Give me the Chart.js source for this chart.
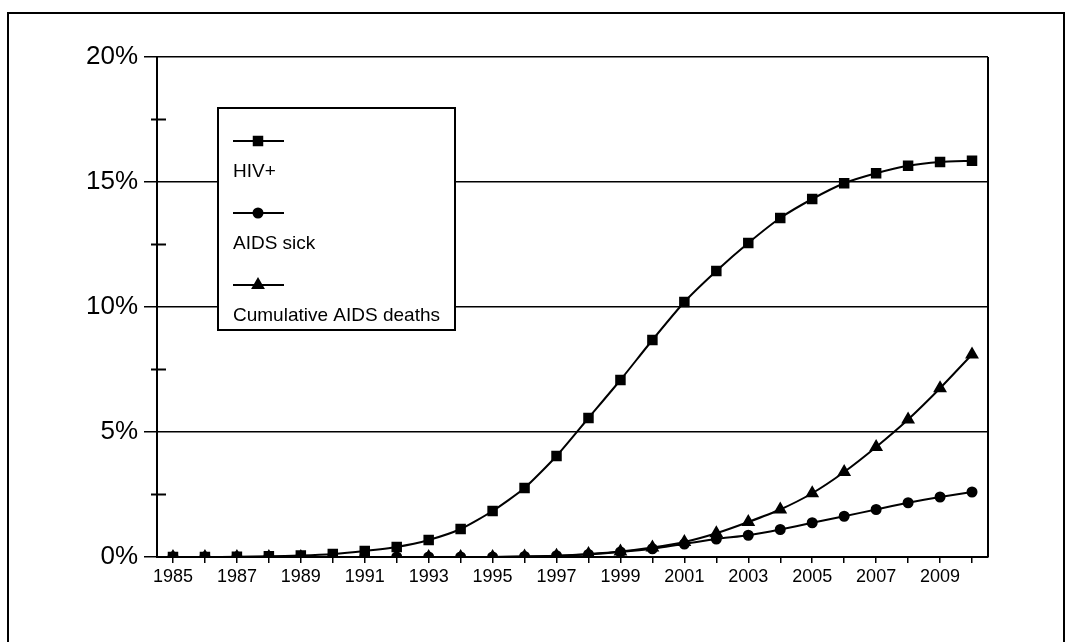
<!DOCTYPE html>
<html>
<head>
<meta charset="utf-8">
<script src="https://cdn.jsdelivr.net/npm/chart.js@4.4.0/dist/chart.umd.min.js"></script>
<style>
  html, body { margin: 0; padding: 0; background: #fff; overflow: hidden; }
  #frame { position: absolute; left: 7px; top: 12px; width: 1054px; height: 640px; border: 2px solid #000; }
  #c { position: absolute; left: 0; top: 0; }
</style>
</head>
<body>
<div id="frame"></div>
<canvas id="c" width="1065" height="642"></canvas>
<script>
// years on the x axis
var years = ['1985','1986','1987','1988','1989','1990','1991','1992','1993','1994','1995','1996','1997',
             '1998','1999','2000','2001','2002','2003','2004','2005','2006','2007','2008','2009','2010'];

// percent of population
var hivPositive = [0, 0, 0.01, 0.03, 0.06, 0.12, 0.24, 0.4, 0.68, 1.12, 1.84, 2.76, 4.04,
                   5.56, 7.08, 8.68, 10.2, 11.44, 12.56, 13.56, 14.32, 14.95, 15.35, 15.65, 15.8, 15.85];
var aidsSick = [0, 0, 0, 0, 0, 0, 0, 0, 0, 0, 0, 0.02, 0.05,
                0.1, 0.2, 0.33, 0.52, 0.72, 0.87, 1.1, 1.37, 1.63, 1.9, 2.17, 2.4, 2.6];
var aidsDeaths = [0, 0, 0, 0, 0, 0, 0, 0, 0, 0, 0, 0.02, 0.05,
                  0.12, 0.22, 0.38, 0.6, 0.95, 1.4, 1.9, 2.55, 3.4, 4.4, 5.5, 6.75, 8.1];

var seriesNames = ['HIV+', 'AIDS sick', 'Cumulative AIDS deaths'];
var yTicks = [0, 5, 10, 15, 20];

var FONT = 'Liberation Sans, Arial, sans-serif';

// minor ticks, right border and the boxed legend
var extras = {
    id: 'extras',
    afterDraw: function(chart) {
        var ctx = chart.ctx;
        var area = chart.chartArea;
        var y = chart.scales.y;
        ctx.save();
        ctx.strokeStyle = '#000';
        ctx.lineWidth = 2;
        // right edge of plot
        ctx.beginPath();
        ctx.moveTo(area.right, area.top);
        ctx.lineTo(area.right, area.bottom);
        ctx.stroke();
        // minor ticks on y axis
        [2.5, 7.5, 12.5, 17.5].forEach(function(v) {
            var py = y.getPixelForValue(v);
            ctx.beginPath();
            ctx.moveTo(area.left - 6, py);
            ctx.lineTo(area.left + 9, py);
            ctx.stroke();
        });
        // legend
        var lx = 218, ly = 108, lw = 237, lh = 222;
        ctx.fillStyle = '#fff';
        ctx.fillRect(lx, ly, lw, lh);
        ctx.strokeRect(lx, ly, lw, lh);
        chart.data.datasets.forEach(function(ds, i) {
            var yy = 141 + i * 72;
            ctx.lineWidth = 2;
            ctx.beginPath();
            ctx.moveTo(233, yy);
            ctx.lineTo(284, yy);
            ctx.stroke();
            Chart.helpers.drawPoint(ctx, {
                pointStyle: ds.pointStyle, radius: ds.pointRadius, rotation: 0, borderWidth: 1
            }, 258, yy);
            ctx.fillStyle = '#000';
            ctx.fill();
            ctx.font = '19px ' + FONT;
            ctx.textBaseline = 'middle';
            ctx.textAlign = 'left';
            ctx.fillText(ds.label, 233, yy + 31);
        });
        ctx.restore();
    }
};

var ctx = document.getElementById('c').getContext('2d');
var myChart = new Chart(ctx, {
    type: 'line',
    data: {
        labels: years,
        datasets: [
            {
                label: seriesNames[0],
                data: hivPositive,
                borderColor: '#000',
                backgroundColor: '#000',
                borderWidth: 2,
                pointStyle: 'rect',
                pointRadius: 6,
                tension: 0.2
            },
            {
                label: seriesNames[1],
                data: aidsSick,
                borderColor: '#000',
                backgroundColor: '#000',
                borderWidth: 2,
                pointStyle: 'circle',
                pointRadius: 4.5,
                tension: 0.2
            },
            {
                label: seriesNames[2],
                data: aidsDeaths,
                borderColor: '#000',
                backgroundColor: '#000',
                borderWidth: 2,
                pointStyle: 'triangle',
                pointRadius: 6,
                tension: 0.2
            }
        ]
    },
    options: {
        responsive: false,
        animation: false,
        layout: {
            padding: { left: 60, right: 77, top: 57, bottom: 45 }
        },
        scales: {
            x: {
                type: 'category',
                offset: true,
                afterFit: function(scale) { scale.height = 40; },
                border: { display: true, color: '#000', width: 2 },
                grid: {
                    display: true,
                    drawOnChartArea: false,
                    offset: false,
                    color: '#000',
                    lineWidth: 1.5,
                    tickLength: 6
                },
                ticks: {
                    autoSkip: false,
                    maxRotation: 0,
                    color: '#000',
                    padding: 3,
                    font: { family: FONT, size: 18 },
                    callback: function(val, idx) {
                        return idx % 2 === 0 ? years[idx] : '';
                    }
                }
            },
            y: {
                min: 0,
                max: 20,
                afterFit: function(scale) { scale.width = 97; },
                afterBuildTicks: function(scale) {
                    scale.ticks = yTicks.map(function(v) { return { value: v }; });
                },
                border: { display: true, color: '#000', width: 2 },
                grid: {
                    color: '#000',
                    lineWidth: 1.5,
                    tickLength: 13
                },
                ticks: {
                    color: '#000',
                    padding: 6,
                    font: { family: FONT, size: 26 },
                    callback: function(v) { return v + '%'; }
                }
            }
        },
        plugins: {
            legend: { display: false },
            tooltip: { enabled: false }
        }
    },
    plugins: [extras]
});
</script>
</body>
</html>
